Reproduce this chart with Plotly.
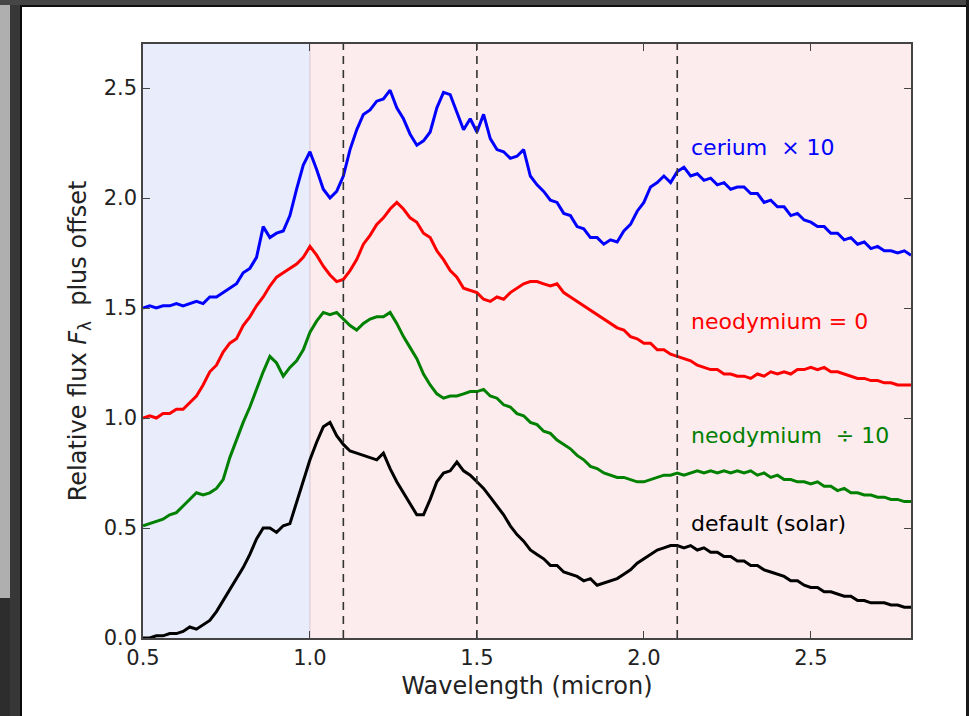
import numpy as np
import plotly.graph_objects as go

# Wavelength grid (micron), 0.02 micron steps from 0.50 to 2.80
wavelength = np.round(np.linspace(0.5, 2.8, 116), 2)

# Relative flux (plus offset) for each model spectrum
cerium_x10 = [
    1.50, 1.51, 1.50, 1.51, 1.51, 1.52, 1.51, 1.52, 1.53, 1.52,
    1.55, 1.55, 1.57, 1.59, 1.61, 1.66, 1.68, 1.73, 1.87, 1.82,
    1.84, 1.85, 1.92, 2.04, 2.15, 2.21, 2.13, 2.04, 2.00, 2.03,
    2.10, 2.22, 2.31, 2.38, 2.40, 2.44, 2.45, 2.49, 2.41, 2.36,
    2.29, 2.24, 2.26, 2.30, 2.41, 2.48, 2.47, 2.39, 2.31, 2.36,
    2.30, 2.38, 2.27, 2.22, 2.21, 2.18, 2.19, 2.22, 2.10, 2.06,
    2.03, 1.99, 1.98, 1.93, 1.92, 1.87, 1.86, 1.82, 1.82, 1.79,
    1.81, 1.80, 1.85, 1.88, 1.94, 1.98, 2.05, 2.07, 2.10, 2.07,
    2.12, 2.14, 2.10, 2.11, 2.08, 2.09, 2.06, 2.07, 2.04, 2.05,
    2.05, 2.02, 2.02, 1.98, 1.99, 1.96, 1.96, 1.92, 1.93, 1.90,
    1.89, 1.87, 1.87, 1.84, 1.84, 1.81, 1.82, 1.79, 1.80, 1.77,
    1.78, 1.76, 1.76, 1.75, 1.76, 1.74,
]

neodymium_zero = [
    1.00, 1.01, 1.00, 1.02, 1.02, 1.04, 1.04, 1.07, 1.10, 1.15,
    1.21, 1.24, 1.30, 1.34, 1.36, 1.42, 1.46, 1.51, 1.55, 1.60,
    1.64, 1.66, 1.68, 1.70, 1.73, 1.78, 1.74, 1.69, 1.65, 1.62,
    1.63, 1.67, 1.72, 1.79, 1.83, 1.88, 1.91, 1.95, 1.98, 1.95,
    1.91, 1.89, 1.84, 1.82, 1.76, 1.72, 1.67, 1.64, 1.59, 1.58,
    1.57, 1.54, 1.53, 1.55, 1.54, 1.57, 1.59, 1.61, 1.62, 1.62,
    1.61, 1.60, 1.61, 1.57, 1.55, 1.53, 1.51, 1.49, 1.47, 1.45,
    1.43, 1.41, 1.40, 1.37, 1.36, 1.34, 1.34, 1.31, 1.31, 1.29,
    1.28, 1.27, 1.26, 1.24, 1.23, 1.22, 1.22, 1.20, 1.20, 1.19,
    1.19, 1.18, 1.20, 1.19, 1.21, 1.20, 1.21, 1.20, 1.22, 1.22,
    1.23, 1.22, 1.23, 1.21, 1.21, 1.20, 1.19, 1.18, 1.18, 1.17,
    1.17, 1.16, 1.16, 1.15, 1.15, 1.15,
]

neodymium_div10 = [
    0.51, 0.52, 0.53, 0.54, 0.56, 0.57, 0.60, 0.63, 0.66, 0.65,
    0.66, 0.68, 0.72, 0.82, 0.90, 0.98, 1.05, 1.13, 1.21, 1.28,
    1.25, 1.19, 1.23, 1.26, 1.31, 1.39, 1.44, 1.48, 1.47, 1.48,
    1.45, 1.42, 1.40, 1.43, 1.45, 1.46, 1.46, 1.48, 1.43, 1.37,
    1.32, 1.27, 1.20, 1.15, 1.11, 1.09, 1.10, 1.10, 1.11, 1.12,
    1.12, 1.13, 1.10, 1.09, 1.06, 1.05, 1.02, 1.01, 0.98, 0.97,
    0.94, 0.93, 0.90, 0.88, 0.86, 0.83, 0.81, 0.78, 0.77, 0.75,
    0.74, 0.73, 0.73, 0.72, 0.71, 0.71, 0.72, 0.73, 0.74, 0.74,
    0.75, 0.74, 0.75, 0.76, 0.75, 0.76, 0.75, 0.76, 0.75, 0.76,
    0.75, 0.76, 0.74, 0.75, 0.73, 0.74, 0.72, 0.72, 0.71, 0.71,
    0.70, 0.71, 0.69, 0.69, 0.67, 0.68, 0.66, 0.66, 0.65, 0.65,
    0.64, 0.64, 0.63, 0.63, 0.62, 0.62,
]

default_solar = [
    0.00, 0.00, 0.01, 0.01, 0.02, 0.02, 0.03, 0.05, 0.04, 0.06,
    0.08, 0.12, 0.17, 0.22, 0.27, 0.32, 0.38, 0.45, 0.50, 0.50,
    0.48, 0.51, 0.52, 0.62, 0.72, 0.81, 0.89, 0.96, 0.98, 0.92,
    0.88, 0.85, 0.84, 0.83, 0.82, 0.81, 0.84, 0.77, 0.71, 0.66,
    0.61, 0.56, 0.56, 0.63, 0.71, 0.75, 0.76, 0.80, 0.76, 0.74,
    0.71, 0.68, 0.64, 0.60, 0.56, 0.51, 0.47, 0.44, 0.40, 0.38,
    0.36, 0.33, 0.33, 0.30, 0.29, 0.28, 0.26, 0.27, 0.24, 0.25,
    0.26, 0.27, 0.29, 0.31, 0.34, 0.36, 0.38, 0.40, 0.41, 0.42,
    0.42, 0.41, 0.42, 0.40, 0.41, 0.39, 0.39, 0.37, 0.37, 0.35,
    0.35, 0.33, 0.33, 0.31, 0.30, 0.29, 0.28, 0.26, 0.26, 0.24,
    0.23, 0.23, 0.21, 0.21, 0.20, 0.19, 0.19, 0.17, 0.17, 0.16,
    0.16, 0.16, 0.15, 0.15, 0.14, 0.14,
]

series = [
    ("cerium  × 10", cerium_x10, "#0000ff", 2.23),
    ("neodymium = 0", neodymium_zero, "#ff0000", 1.44),
    ("neodymium  ÷ 10", neodymium_div10, "#008000", 0.92),
    ("default (solar)", default_solar, "#000000", 0.52),
]

band_edges = [0.5, 1.0, 2.8]          # optical / near-infrared bands
band_colors = ["rgb(232,236,251)", "rgb(253,236,237)"]
marker_lines = [1.1, 1.5, 2.1]        # reference wavelengths

W, H = 969, 716
L, R, T, B = 143, 58, 44, 78
font = "DejaVu Sans"

fig = go.Figure()
for name, ys, color, _ in series:
    assert len(ys) == len(wavelength)
    fig.add_trace(go.Scatter(x=wavelength, y=ys, mode="lines", name=name,
                             line=dict(color=color, width=3), showlegend=False))

shapes = []
# shaded wavelength bands
for i, c in enumerate(band_colors):
    shapes.append(dict(type="rect", xref="x", yref="paper", x0=band_edges[i], x1=band_edges[i + 1],
                       y0=0, y1=1, fillcolor=c, line_width=0, layer="below"))
shapes.append(dict(type="line", xref="x", yref="paper", x0=1.0, x1=1.0, y0=0, y1=1,
                   line=dict(color="rgb(215,200,210)", width=1), layer="below"))
# dashed reference lines
for xv in marker_lines:
    shapes.append(dict(type="line", xref="x", yref="paper", x0=xv, x1=xv, y0=0, y1=1,
                       line=dict(color="#333333", width=1.6, dash="8px,6px"), layer="above"))


# dark window frame around the page (pixel -> paper coordinates)
def px(xp):
    return (xp - L) / (W - L - R)


def py(yp):
    return (H - B - yp) / (H - T - B)


def frame(x0, y0, x1, y1, color):
    shapes.append(dict(type="rect", xref="paper", yref="paper", x0=px(x0), x1=px(x1),
                       y0=py(y1), y1=py(y0), fillcolor=color, line_width=0, layer="above"))


frame(0, 0, 10, 598, "rgb(175,175,175)")
frame(0, 598, 10, 716, "rgb(45,45,45)")
frame(10, 0, 20, 716, "rgb(55,55,55)")
frame(20, 0, 22, 716, "rgb(10,10,10)")
frame(0, 0, 969, 5, "rgb(70,70,70)")
frame(20, 5, 969, 7, "rgb(15,15,15)")
frame(966, 0, 969, 716, "rgb(25,25,25)")

annotations = []
for name, ys, color, ylab in series:
    annotations.append(dict(x=2.135, y=ylab, xref="x", yref="y", text=name, showarrow=False,
                            xanchor="left", yanchor="middle",
                            font=dict(family=font, size=22, color=color)))

axis_common = dict(showgrid=False, zeroline=False, showline=True, linecolor="#444444", linewidth=1.5,
                   mirror="ticks", ticks="inside", ticklen=7, tickwidth=1.2, tickcolor="#444444",
                   tickfont=dict(family=font, size=21, color="#222222"))

fig.update_layout(
    width=W, height=H,
    margin=dict(l=L, r=R, t=T, b=B),
    paper_bgcolor="white",
    plot_bgcolor="rgba(0,0,0,0)",
    shapes=shapes,
    annotations=annotations,
    xaxis=dict(range=[0.5, 2.8], tickvals=[0.5, 1.0, 1.5, 2.0, 2.5], ticktext=["0.5", "1.0", "1.5", "2.0", "2.5"],
               title=dict(text="Wavelength (micron)", font=dict(family=font, size=24, color="#222222"), standoff=8),
               **axis_common),
    yaxis=dict(range=[0, 2.7], tickvals=[0, 0.5, 1.0, 1.5, 2.0, 2.5], ticktext=["0.0", "0.5", "1.0", "1.5", "2.0", "2.5"],
               title=dict(text="Relative flux <i>F</i><sub>λ</sub>  plus offset",
                          font=dict(family=font, size=24, color="#222222"), standoff=10),
               **axis_common),
)

fig.write_html("out.html")
